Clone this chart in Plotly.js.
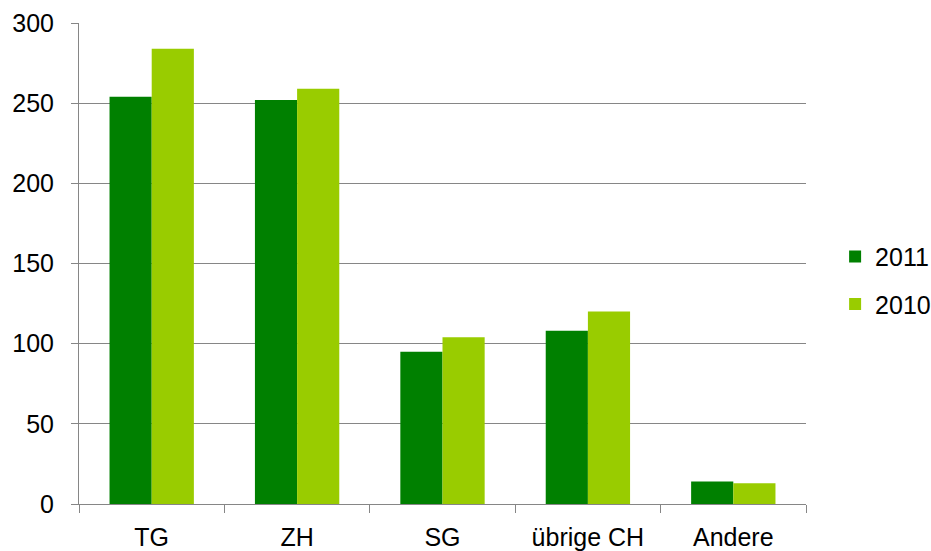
<!DOCTYPE html>
<html>
<head>
<meta charset="utf-8">
<script src="https://cdn.plot.ly/plotly-3.0.1.min.js"></script>
<style>
  html, body { margin: 0; padding: 0; background: #fff; }
  #chart { width: 931px; height: 551px; }
</style>
</head>
<body>
<div id="chart"></div>
<script>
const categories = ["TG", "ZH", "SG", "übrige CH", "Andere"];
const values2011 = [254, 252, 95, 108, 14];
const values2010 = [284, 259, 104, 120, 13];
const yTicks = [0, 50, 100, 150, 200, 250, 300];

const gridGray = "#868686";

const data = [
    {
        type: "bar",
        name: "2011",
        x: categories,
        y: values2011,
        marker: { color: "#008000", line: { width: 0 } },
        legendgroup: "a",
        hoverinfo: "x+y+name"
    },
    {
        type: "bar",
        name: "2010",
        x: categories,
        y: values2010,
        marker: { color: "#99CC00", line: { width: 0 } },
        legendgroup: "b",
        hoverinfo: "x+y+name"
    }
];

const layout = {
    width: 931,
    height: 551,
    margin: { l: 79, r: 125, t: 23, b: 47 },
    paper_bgcolor: "#ffffff",
    plot_bgcolor: "#ffffff",
    font: { family: "Liberation Sans, Arial, sans-serif", size: 25, color: "#000000" },
    barmode: "group",
    bargap: 0.42,
    bargroupgap: 0,
    showlegend: true,
    legend: {
        // container ref so the legend does not squeeze the plot area
        xref: "container",
        x: 0.897, xanchor: "left",
        y: 0.465, yanchor: "middle",
        traceorder: "grouped",
        tracegroupgap: 12,
        font: { size: 25 },
        itemwidth: 30
    },
    xaxis: {
        type: "category",
        showline: true,
        linecolor: gridGray,
        linewidth: 1,
        ticks: "outside",
        tickson: "boundaries",
        ticklen: 8,
        tickcolor: gridGray,
        showgrid: false,
        ticklabelstandoff: 11,
        fixedrange: true
    },
    yaxis: {
        range: [0, 300],
        tickvals: yTicks,
        showline: true,
        linecolor: gridGray,
        linewidth: 1,
        ticks: "outside",
        ticklen: 7,
        tickcolor: gridGray,
        showgrid: true,
        gridcolor: gridGray,
        gridwidth: 1,
        zeroline: false,
        ticklabelstandoff: 12,
        fixedrange: true
    }
};

Plotly.newPlot("chart", data, layout, { displayModeBar: false, staticPlot: true });
</script>
</body>
</html>
